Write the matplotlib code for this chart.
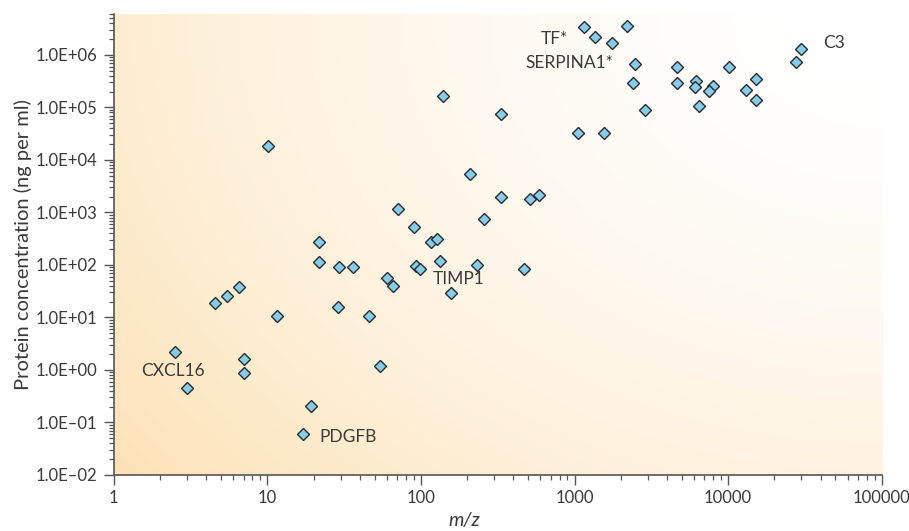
import matplotlib.pyplot as plt
import matplotlib.ticker as mticker
import numpy as np

plt.rcParams["font.family"] = ["Lato", "DejaVu Sans"]

# m/z values and protein concentrations (ng per ml)
mz = [2.52, 3.01, 4.57, 5.49, 6.54, 11.6, 7.02, 7.02, 17.1, 19.3,
      10.06, 21.6, 21.6, 29.4, 36.0, 29.0, 45.6, 54.2, 59.9, 65.5,
      71.3, 90.2, 92.9, 97.9, 116, 128, 133, 157, 139, 209,
      232, 259, 330, 330, 471, 515, 587, 1059, 1552, 1153,
      1360, 1747, 2198, 2466, 2410, 2857, 4634, 4634, 6210, 6043,
      7947, 7479, 6437, 10140, 15200, 13090, 15240, 29840, 27540]
conc = [2.16, 0.447, 19.0, 25.5, 37.4, 10.6, 1.59, 0.863, 0.0611, 0.208,
        18300, 272, 116, 92.9, 91, 16.1, 10.6, 1.19, 55.4, 39.6,
        1180, 525, 95, 82.6, 270, 310, 117, 29.8, 165000, 5360,
        98, 739, 73600, 1980, 82.2, 1790, 2130, 33000, 31900, 3.47e6,
        2.20e6, 1.71e6, 3.48e6, 673000, 289000, 87300, 583000, 293000, 316000, 243000,
        251000, 206000, 104500, 590000, 340000, 213000, 137000, 1.30e6, 716000]

labels = ["CXCL16", "PDGFB", "TIMP1", "TF*", "SERPINA1*", "C3"]
label_x = [1.51, 21.7, 120, 910, 1780, 41500]
label_y = [0.95, 0.053, 54, 2.0e6, 7.0e5, 1.67e6]
label_ha = ["left", "left", "left", "right", "right", "left"]

text_col = "#3a3a3a"

fig = plt.figure(figsize=(9.09, 5.31), dpi=100)
ax = fig.add_axes([0.1251, 0.1055, 0.8449, 0.8681])

# background: white at top-right fading to pale orange at bottom-left
ny, nx = 200, 340
gx, gy = np.meshgrid(np.linspace(0, 1, nx), np.linspace(1, 0, ny))
d = np.sqrt((1 - gx) ** 2 + (0.8 * (1 - gy)) ** 2) / np.hypot(1, 0.8)
t = np.clip(d, 0, 1) ** 1.8
white = np.array([1.0, 1.0, 1.0])
orange = np.array([253, 226, 182]) / 255
img = white[None, None, :] * (1 - t[..., None]) + orange[None, None, :] * t[..., None]
ax.imshow(img, extent=[0, 1, 0, 1], transform=ax.transAxes, aspect="auto",
          zorder=0, interpolation="bilinear")

ax.plot(mz, conc, linestyle="none", marker="D", ms=6.6, mfc="#86cdec",
        mec="#2a2a2a", mew=1.0, zorder=3)

for s, x, y, ha in zip(labels, label_x, label_y, label_ha):
    ax.text(x, y, s, ha=ha, va="center", fontsize=12.5, color=text_col, zorder=4)

ax.set_xscale("log")
ax.set_yscale("log")
ax.set_xlim(1, 100000)
ax.set_ylim(1e-2, 6e6)

ax.xaxis.set_major_locator(mticker.LogLocator(base=10, numticks=20))
ax.xaxis.set_minor_locator(mticker.LogLocator(base=10, subs=np.arange(2, 10), numticks=100))
ax.yaxis.set_major_locator(mticker.FixedLocator([10.0 ** k for k in range(-2, 7)]))
ax.yaxis.set_minor_locator(mticker.LogLocator(base=10, subs=np.arange(2, 10), numticks=100))
ax.xaxis.set_major_formatter(mticker.FuncFormatter(lambda v, p: f"{v:.0f}"))
ax.yaxis.set_major_formatter(mticker.FuncFormatter(
    lambda v, p: "1.0E" + ("+" if v >= 1 else "\u2013") + f"{abs(int(round(np.log10(v)))):02d}"))
ax.xaxis.set_minor_formatter(mticker.NullFormatter())
ax.yaxis.set_minor_formatter(mticker.NullFormatter())

for side in ["top", "right"]:
    ax.spines[side].set_visible(False)
for side in ["left", "bottom"]:
    ax.spines[side].set_color("#555555")
    ax.spines[side].set_linewidth(1.2)

ax.tick_params(which="major", length=7, width=1.0, color="#555555",
               labelsize=12, labelcolor=text_col)
ax.tick_params(which="minor", length=3.5, width=0.9, color="#555555")
ax.tick_params(axis="x", which="major", pad=4)
ax.tick_params(axis="y", which="major", pad=5)

ax.set_ylabel("Protein concentration (ng per ml)", fontsize=14.5, color=text_col)
ax.yaxis.set_label_coords(-0.107, 0.5)
ax.set_xlabel("m/z", fontsize=14, color=text_col, style="italic")
ax.xaxis.set_label_coords(0.457, -0.08)

fig.savefig("out.png", dpi=100)
